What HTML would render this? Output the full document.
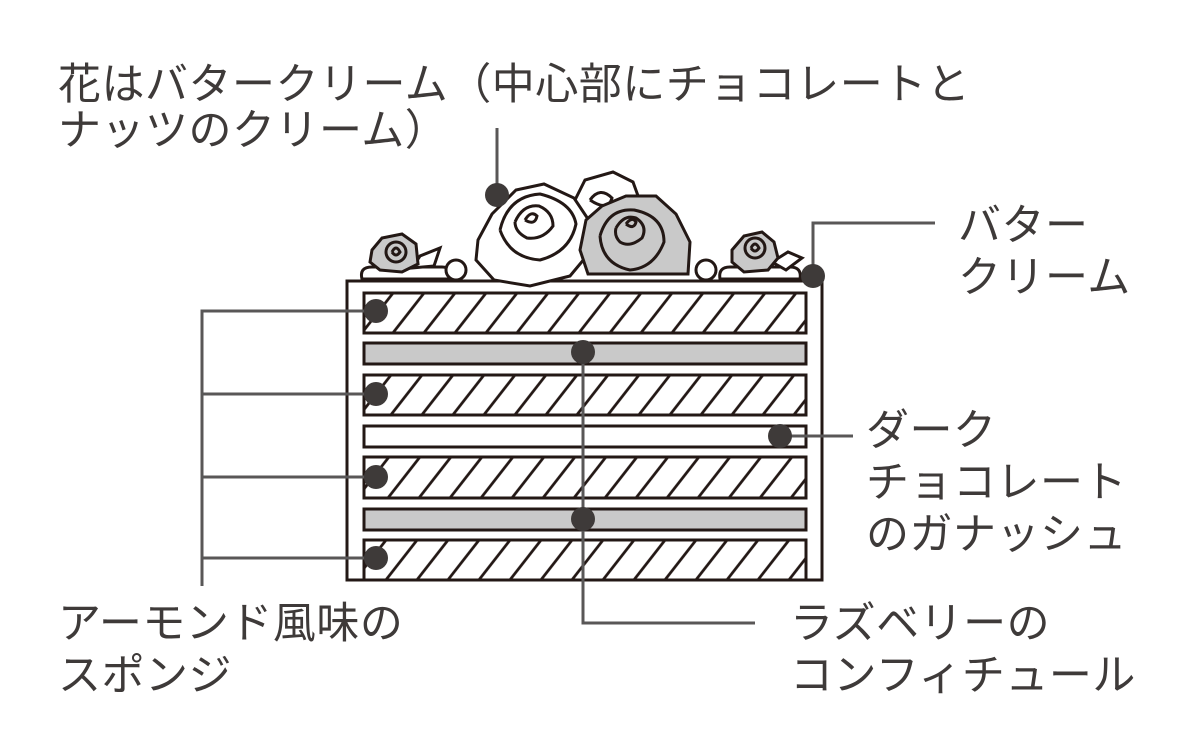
<!DOCTYPE html>
<html><head><meta charset="utf-8"><style>
html,body{margin:0;padding:0;background:#fff;}
body{width:1200px;height:752px;position:relative;overflow:hidden;}
.t{position:absolute;font-family:"Liberation Sans","Noto Sans CJK JP",sans-serif;font-size:43px;line-height:52px;color:#3e3a39;white-space:nowrap;letter-spacing:0.5px;}
svg{position:absolute;left:0;top:0;}
</style></head><body>
<svg width="1200" height="752" viewBox="0 0 1200 752">
<defs>
<pattern id="h" patternUnits="userSpaceOnUse" width="31" height="60" patternTransform="skewX(-38)">
<rect width="31" height="60" fill="#fff"/>
<line x1="2" y1="0" x2="2" y2="60" stroke="#231815" stroke-width="3.5"/>
</pattern>
</defs>
<rect x="347" y="281" width="475" height="299" fill="#fff" stroke="#231815" stroke-width="3"/>
<rect x="364" y="293" width="442" height="40" fill="url(#h)" stroke="#231815" stroke-width="3"/>
<rect x="364" y="343" width="442" height="21" fill="#c9c9c9" stroke="#231815" stroke-width="3"/>
<rect x="364" y="375" width="442" height="40" fill="url(#h)" stroke="#231815" stroke-width="3"/>
<rect x="364" y="426" width="442" height="21" fill="#fff" stroke="#231815" stroke-width="3"/>
<rect x="364" y="457" width="442" height="41" fill="url(#h)" stroke="#231815" stroke-width="3"/>
<rect x="364" y="509" width="442" height="21" fill="#c9c9c9" stroke="#231815" stroke-width="3"/>
<rect x="364" y="540" width="442" height="40" fill="url(#h)" stroke="#231815" stroke-width="3"/>
<g stroke="#231815" stroke-width="3" fill="#fff">
<path d="M362 279 q-3 -12 10 -12 h70 q10 0 8 12 z"/>
<path d="M720 279 q-2 -12 10 -12 h60 q12 0 10 12 z"/>
<circle cx="456" cy="270" r="10"/>
<circle cx="706" cy="270" r="10"/>
<path d="M412 268 l8 -12 l20 -8 l-6 18 z" fill="#fff"/>
<path d="M372 250 l10 -12 l20 -4 l14 10 l2 20 l-16 8 l-22 -2 l-10 -8 z" fill="#c9c9c9"/>
<circle cx="396" cy="252" r="10" fill="#c9c9c9"/>
<path d="M392 252 q4 -8 8 0 q-4 6 -8 0" fill="#c9c9c9"/>
<path d="M772 262 l16 -10 l14 6 l-16 12 z" fill="#fff"/>
<path d="M732 250 l12 -14 l18 -4 l12 10 l4 16 l-10 12 l-24 2 l-12 -10 z" fill="#c9c9c9"/>
<circle cx="755" cy="248" r="10" fill="#c9c9c9"/>
<path d="M751 248 q4 -8 8 0 q-4 6 -8 0" fill="#c9c9c9"/>
<path d="M575 200 l10 -20 l28 -8 l20 10 l8 22 l-16 24 l-34 6 l-16 -14 z"/>
<path d="M590 200 q10 -14 22 -2 q-4 14 -22 2"/>
<path d="M478 240 l14 -26 l24 -24 l28 -6 l30 14 l16 24 l0 30 l-20 24 l-40 10 l-36 -6 l-18 -20 z"/>
<path d="M500 230 q8 -34 40 -36 q32 8 36 30 q-6 28 -36 36 q-30 -2 -40 -30"/>
<path d="M515 222 q8 -18 24 -16 q14 6 14 20 q-10 14 -26 12 q-12 -6 -12 -16"/>
<path d="M525 220 q6 -10 12 -4 q-2 10 -12 4"/>
<path d="M586 220 l16 -14 l24 -10 l30 0 l20 18 l14 28 l-2 32 l-100 0 l-8 -24 z" fill="#c9c9c9"/>
<path d="M600 236 q8 -28 34 -26 q30 6 30 32 q-10 26 -34 28 q-28 -6 -30 -34" fill="#c9c9c9"/>
<path d="M616 228 q8 -14 20 -10 q12 8 6 20 q-12 10 -22 4 q-6 -6 -4 -14" fill="#c9c9c9"/>
<path d="M626 224 q6 -8 10 -2 q-2 8 -10 2" fill="#c9c9c9"/>
</g>
<g stroke="#595757" stroke-width="3" fill="none">
<polyline points="376,311 202,311 202,586"/>
<line x1="202" y1="394" x2="376" y2="394"/>
<line x1="202" y1="477" x2="376" y2="477"/>
<line x1="202" y1="558" x2="376" y2="558"/>
<polyline points="583,352 583,623 755,623"/>
<line x1="780" y1="436" x2="853" y2="436"/>
<polyline points="813,276 813,223 935,223"/>
<line x1="497" y1="128" x2="497" y2="195"/>
</g>
<g fill="#3e3a39">
<circle cx="376" cy="311" r="12"/>
<circle cx="376" cy="394" r="12"/>
<circle cx="376" cy="477" r="12"/>
<circle cx="376" cy="558" r="12"/>
<circle cx="583" cy="352" r="12"/>
<circle cx="583" cy="519" r="12"/>
<circle cx="780" cy="436" r="12"/>
<circle cx="813" cy="276" r="12"/>
<circle cx="497" cy="195" r="12"/>
</g>
</svg>
<div class="t" style="left:58px;top:62px;line-height:46px;">花はバタークリーム（中心部にチョコレートと<br>ナッツのクリーム）</div>
<div class="t" style="left:958px;top:200px;">バター<br>クリーム</div>
<div class="t" style="left:866px;top:405px;">ダーク<br>チョコレート<br>のガナッシュ</div>
<div class="t" style="left:58px;top:598px;">アーモンド風味の<br>スポンジ</div>
<div class="t" style="left:790px;top:598px;">ラズベリーの<br>コンフィチュール</div>
</body></html>
